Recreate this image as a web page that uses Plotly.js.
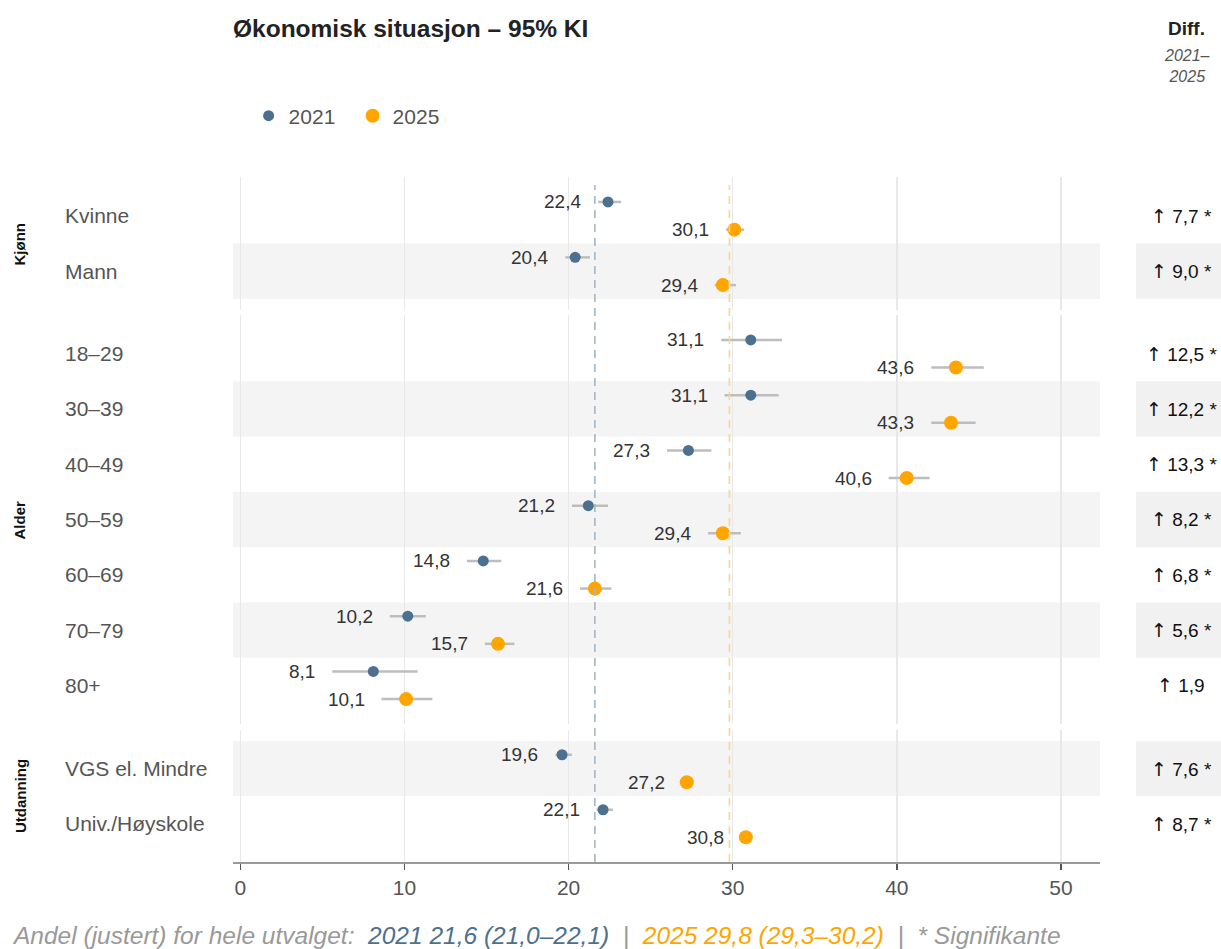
<!DOCTYPE html>
<html>
<head>
<meta charset="utf-8">
<script src="https://cdn.plot.ly/plotly-3.0.1.min.js"></script>
<style>html,body{margin:0;padding:0;background:#fff;}#chart{width:1221px;height:949px;}</style>
</head>
<body>
<div id="chart"></div>
<script>
// ---------- data ----------
const groups = ['Kjønn', 'Alder', 'Utdanning'];
const categories = ['Kvinne', 'Mann', '18–29', '30–39', '40–49', '50–59', '60–69', '70–79', '80+', 'VGS el. Mindre', 'Univ./Høyskole'];
const groupOf = [0, 0, 1, 1, 1, 1, 1, 1, 1, 2, 2];
const years = ['2021', '2025'];
const val2021 = [22.4, 20.4, 31.1, 31.1, 27.3, 21.2, 14.8, 10.2, 8.1, 19.6, 22.1];
const lo2021  = [21.8, 19.8, 29.3, 29.5, 26.0, 20.2, 13.8, 9.1, 5.6, 19.2, 21.7];
const hi2021  = [23.2, 21.3, 33.0, 32.8, 28.7, 22.4, 15.9, 11.3, 10.8, 20.2, 22.7];
const val2025 = [30.1, 29.4, 43.6, 43.3, 40.6, 29.4, 21.6, 15.7, 10.1, 27.2, 30.8];
const lo2025  = [29.6, 28.9, 42.1, 42.1, 39.5, 28.5, 20.7, 14.9, 8.6, 26.9, 30.5];
const hi2025  = [30.7, 30.2, 45.3, 44.8, 42.0, 30.5, 22.6, 16.7, 11.7, 27.5, 31.1];
const diffValues = [7.7, 9.0, 12.5, 12.2, 13.3, 8.2, 6.8, 5.6, 1.9, 7.6, 8.7];
const diffSignificant = [true, true, true, true, true, true, true, true, false, true, true];
const overall2021 = 21.6, overallLo2021 = 21.0, overallHi2021 = 22.1;
const overall2025 = 29.8, overallLo2025 = 29.3, overallHi2025 = 30.2;
const xTicks = [0, 10, 20, 30, 40, 50];

// ---------- styling ----------
const C21 = '#4C7090', C25 = '#FFA500';
const FONT = 'Liberation Sans, Arial, Helvetica, sans-serif';
const fmt = v => v.toFixed(1).replace('.', ',');

const yNames = ['y', 'y2', 'y3'];
const xNames = ['x2', 'x3', 'x'];
const domains = [[0.8058, 1], [0.2015, 0.7985], [0, 0.1927]];
const PAD = 0.2;

// row index within group
const rowIdx = [];
const counts = [0, 0, 0];
groupOf.forEach((g, i) => { rowIdx.push(counts[g]); counts[g]++; });

const traces = [];
const annotations = [];
const shapes = [];

const series = [
  {name: years[0], val: val2021, lo: lo2021, hi: hi2021, color: C21, size: 11, off: -0.25},
  {name: years[1], val: val2025, lo: lo2025, hi: hi2025, color: C25, size: 14, off: 0.25}
];

groups.forEach((gName, p) => {
  const idx = groupOf.map((g, i) => g === p ? i : -1).filter(i => i >= 0);
  series.forEach((s, si) => {
    traces.push({
      type: 'scatter', mode: 'markers',
      name: s.name, legendgroup: s.name, showlegend: p === 0,
      x: idx.map(i => s.val[i]),
      y: idx.map(i => rowIdx[i] + s.off),
      xaxis: xNames[p], yaxis: yNames[p],
      marker: {color: s.color, size: s.size},
      error_x: {type: 'data', symmetric: false,
        array: idx.map(i => s.hi[i] - s.val[i]),
        arrayminus: idx.map(i => s.val[i] - s.lo[i]),
        color: '#bdbdbd', thickness: 2.5, width: 0},
      hoverinfo: 'x+name'
    });
    idx.forEach(i => {
      annotations.push({
        xref: xNames[p], yref: yNames[p], x: s.lo[i], y: rowIdx[i] + s.off,
        text: fmt(s.val[i]), showarrow: false, xanchor: 'right', yanchor: 'middle',
        xshift: -15, font: {family: FONT, size: 19, color: '#333'}
      });
    });
  });
  // category labels, shading, diff column
  idx.forEach(i => {
    annotations.push({
      xref: 'paper', yref: yNames[p], x: -0.1961, y: rowIdx[i],
      text: categories[i], showarrow: false, xanchor: 'left', yanchor: 'middle',
      font: {family: FONT, size: 21, color: '#555'}
    });
    if (i % 2 === 1) {
      shapes.push({type: 'rect', layer: 'below', xref: 'paper', yref: yNames[p],
        x0: 0, x1: 1, y0: rowIdx[i] - 0.5, y1: rowIdx[i] + 0.5,
        fillcolor: '#f4f4f4', line: {width: 0}});
      shapes.push({type: 'rect', layer: 'below', xref: 'paper', yref: yNames[p],
        x0: 1.0415, x1: 1.16, y0: rowIdx[i] - 0.5, y1: rowIdx[i] + 0.5,
        fillcolor: '#f1f1f1', line: {width: 0}});
    }
    annotations.push({
      xref: 'paper', yref: yNames[p], x: 1.094, y: rowIdx[i],
      text: '<span style="font-family:DejaVu Sans">↑</span> ' + fmt(diffValues[i]) + (diffSignificant[i] ? ' *' : ''),
      showarrow: false, xanchor: 'center', yanchor: 'middle',
      font: {family: FONT, size: 19, color: '#111'}
    });
  });
  // group label
  const d = domains[p];
  annotations.push({
    xref: 'paper', yref: 'paper', x: -0.2457, y: (d[0] + d[1]) / 2,
    text: '<b>' + gName + '</b>', showarrow: false, textangle: -90,
    xanchor: 'center', yanchor: 'middle',
    font: {family: FONT, size: 15, color: '#111'}
  });
});

// overall reference lines
shapes.push({type: 'line', layer: 'above', xref: 'x', yref: 'paper', x0: overall2021, x1: overall2021,
  y0: 0, y1: 0.988, line: {color: '#a3b7c9', width: 1.6, dash: '8px,6px'}});
shapes.push({type: 'line', layer: 'above', xref: 'x', yref: 'paper', x0: overall2025, x1: overall2025,
  y0: 0, y1: 0.988, line: {color: '#ffd48a', width: 1.6, dash: '8px,6px'}});

// title
annotations.push({xref: 'paper', yref: 'paper', x: -0.002, y: 1.2175, xanchor: 'left', yanchor: 'middle',
  text: '<b>Økonomisk situasjon – 95% KI</b>', showarrow: false,
  font: {family: FONT, size: 24.5, color: '#222'}});
// diff header
annotations.push({xref: 'paper', yref: 'paper', x: 1.1, y: 1.2175, xanchor: 'center', yanchor: 'middle',
  text: '<b>Diff.</b>', showarrow: false, font: {family: FONT, size: 19, color: '#222'}});
annotations.push({xref: 'paper', yref: 'paper', x: 1.1, y: 1.162, xanchor: 'center', yanchor: 'middle',
  text: '<i>2021–<br>2025</i>', showarrow: false, font: {family: FONT, size: 16, color: '#555'}});
// footer
annotations.push({xref: 'paper', yref: 'paper', x: -0.2572, y: -0.108, xanchor: 'left', yanchor: 'middle',
  showarrow: false, font: {family: FONT, size: 24.5, color: '#999', style: 'italic'},
  text: 'Andel (justert) for hele utvalget:  ' +
    '<span style="color:' + C21 + '">' + years[0] + ' ' + fmt(overall2021) + ' (' + fmt(overallLo2021) + '–' + fmt(overallHi2021) + ')</span>' +
    '  |  <span style="color:' + C25 + '">' + years[1] + ' ' + fmt(overall2025) + ' (' + fmt(overallLo2025) + '–' + fmt(overallHi2025) + ')</span>' +
    '  |  * Signifikante'});

const xRange = [-0.45, 52.38];
const xBase = {range: xRange, tickvals: xTicks, showgrid: true, gridcolor: '#e8e8e8', gridwidth: 1.5,
  zeroline: false, fixedrange: true};

const layout = {
  width: 1221, height: 949,
  margin: {l: 233, r: 121, t: 177, b: 87},
  paper_bgcolor: '#fff', plot_bgcolor: 'rgba(0,0,0,0)',
  font: {family: FONT, color: '#555'},
  showlegend: true,
  legend: {orientation: 'h', x: 0.018, y: 1.089, xanchor: 'left', yanchor: 'middle',
    entrywidth: 59, entrywidthmode: 'pixels',
    font: {family: FONT, size: 21, color: '#555'}, bgcolor: 'rgba(0,0,0,0)'},
  xaxis: Object.assign({}, xBase, {anchor: 'y3', showline: true, linecolor: '#999', linewidth: 1.5,
    ticks: 'outside', ticklen: 6, tickcolor: '#555', tickwidth: 1.5,
    tickfont: {family: FONT, size: 21, color: '#555'}}),
  xaxis2: Object.assign({}, xBase, {anchor: 'y', matches: 'x', showticklabels: false}),
  xaxis3: Object.assign({}, xBase, {anchor: 'y2', matches: 'x', showticklabels: false}),
  annotations: annotations,
  shapes: shapes
};
groups.forEach((g, p) => {
  const n = counts[p];
  const key = p === 0 ? 'yaxis' : 'yaxis' + (p + 1);
  layout[key] = {domain: domains[p], range: [n - 0.5 + PAD, -0.5 - PAD], showgrid: false,
    zeroline: false, showticklabels: false, fixedrange: true, anchor: xNames[p]};
});

Plotly.newPlot('chart', traces, layout, {displayModeBar: false, staticPlot: true});
</script>
</body>
</html>
